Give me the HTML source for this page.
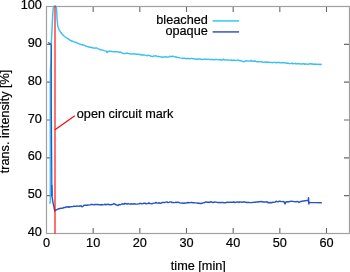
<!DOCTYPE html><html><head><meta charset="utf-8"><style>html,body{margin:0;padding:0;background:#fff;width:350px;height:272px;overflow:hidden}svg{display:block;will-change:transform}text{stroke:#000;stroke-width:0.2px}</style></head><body>
<svg width="350" height="272" viewBox="0 0 350 272" xmlns="http://www.w3.org/2000/svg" font-family='"Liberation Sans", sans-serif' font-size="12.7">
<rect x="0" y="0" width="350" height="272" fill="#fff"/>
<path d="M46.5 195.67h5.5M349.5 195.67h-5.5M46.5 157.83h5.5M349.5 157.83h-5.5M46.5 120.00h5.5M349.5 120.00h-5.5M46.5 82.17h5.5M349.5 82.17h-5.5M46.5 44.33h5.5M349.5 44.33h-5.5M93.17 233.5v-5.5M93.17 6.5v5.5M139.83 233.5v-5.5M139.83 6.5v5.5M186.50 233.5v-5.5M186.50 6.5v5.5M233.17 233.5v-5.5M233.17 6.5v5.5M279.83 233.5v-5.5M279.83 6.5v5.5M326.50 233.5v-5.5M326.50 6.5v5.5" stroke="#6a6a6a" stroke-width="1.1" fill="none"/>
<rect x="46.5" y="6.5" width="303" height="227" fill="none" stroke="#a0a0a0" stroke-width="1.2"/>
<text x="41.8" y="236.00" text-anchor="end">40</text>
<text x="41.8" y="198.17" text-anchor="end">50</text>
<text x="41.8" y="160.33" text-anchor="end">60</text>
<text x="41.8" y="122.50" text-anchor="end">70</text>
<text x="41.8" y="84.67" text-anchor="end">80</text>
<text x="41.8" y="46.83" text-anchor="end">90</text>
<text x="41.8" y="9.00" text-anchor="end">100</text>
<text x="46.50" y="247.4" text-anchor="middle">0</text>
<text x="93.17" y="247.4" text-anchor="middle">10</text>
<text x="139.83" y="247.4" text-anchor="middle">20</text>
<text x="186.50" y="247.4" text-anchor="middle">30</text>
<text x="233.17" y="247.4" text-anchor="middle">40</text>
<text x="279.83" y="247.4" text-anchor="middle">50</text>
<text x="326.50" y="247.4" text-anchor="middle">60</text>
<text x="198.3" y="269.7" text-anchor="middle">time [min]</text>
<text transform="translate(9.1,121.45) rotate(-90)" text-anchor="middle">trans. intensity [%]</text>
<polyline points="49.30,203.40 50.30,202.60 50.30,150.00 50.30,105.00 50.40,70.00 51.00,60.00 51.30,42.00 52.00,30.00 52.50,18.00 53.20,8.00 54.30,6.00 55.60,6.00 56.50,8.00 57.00,18.00 57.50,23.00 57.70,26.00 59.00,29.50 59.75,30.75 60.50,32.00 61.25,33.00 62.00,34.00 63.00,35.00 64.00,36.00 65.00,36.75 66.00,37.50 67.00,38.10 68.00,38.70 69.25,39.60 70.50,40.50 71.75,41.00 73.00,41.50 74.00,41.83 75.00,42.17 76.00,42.50 77.00,42.90 78.00,43.30 79.00,43.70 80.00,44.04 81.00,44.61 82.00,44.75 83.00,45.03 84.00,45.20 85.00,45.65 86.00,46.24 87.00,46.39 88.00,46.83 89.00,46.95 90.00,47.29 91.00,47.54 92.00,47.27 93.00,47.97 94.00,48.03 95.00,48.17 96.00,47.83 97.00,48.14 98.00,48.64 99.00,49.06 100.00,49.55 101.00,49.79 102.00,50.15 103.00,50.14 104.00,50.59 105.00,50.85 106.00,50.85 107.00,52.58 108.00,51.32 109.00,51.56 110.00,51.26 111.00,51.34 112.00,51.48 113.00,51.60 114.00,51.82 115.00,51.79 116.00,51.70 117.00,51.69 118.00,51.89 119.00,52.37 120.00,52.02 121.00,52.35 122.25,53.14 123.50,53.47 124.75,53.51 126.00,53.49 127.00,52.92 128.00,53.45 129.00,53.66 130.00,53.66 131.00,54.11 132.00,53.95 133.00,53.60 134.00,54.06 135.00,53.99 136.00,54.01 137.00,54.32 138.00,54.28 139.00,54.43 140.00,54.31 141.00,54.94 142.00,54.81 143.00,54.98 144.00,54.94 145.00,55.15 146.00,55.38 147.00,55.84 148.00,55.17 149.00,55.36 150.00,55.79 151.00,56.12 152.00,56.48 153.00,56.48 153.75,55.90 154.50,56.08 155.25,55.84 156.00,55.75 157.00,56.38 158.00,56.56 159.00,56.51 160.00,56.69 161.00,56.90 162.00,57.19 163.00,57.02 164.00,57.03 165.00,57.08 166.00,56.65 167.00,57.21 168.00,57.07 169.00,56.90 170.00,56.28 171.00,56.50 172.00,56.76 173.00,56.10 174.00,56.65 175.00,57.10 176.00,56.77 177.00,57.60 178.00,57.56 179.00,57.59 180.00,57.88 181.00,58.14 182.00,58.13 183.00,58.45 184.00,58.15 185.00,58.31 186.00,58.73 187.00,58.51 188.00,58.31 189.00,58.71 190.00,58.82 191.00,58.40 192.00,58.32 193.00,58.71 194.00,58.83 195.00,58.91 196.00,59.41 197.00,58.88 198.00,59.40 199.00,58.85 200.00,58.97 201.00,59.29 202.00,59.41 203.00,59.36 204.00,59.26 205.00,59.22 206.00,59.23 207.00,59.36 208.00,59.22 209.00,59.35 210.00,59.45 211.00,59.35 212.00,59.55 213.00,59.53 214.00,59.88 215.00,59.54 216.00,59.41 217.00,59.47 218.00,59.60 219.00,59.85 220.00,59.63 221.00,59.83 222.00,60.20 223.00,59.29 224.00,59.65 225.00,60.00 226.00,60.09 227.00,60.05 228.00,59.91 229.00,60.14 230.00,60.06 231.00,59.89 232.00,60.61 233.00,60.24 234.00,60.12 235.00,60.30 236.00,60.35 237.00,60.47 238.00,59.96 239.00,60.53 240.00,60.94 241.00,60.54 242.00,61.14 243.00,61.71 244.00,61.44 245.00,61.33 246.00,60.63 247.00,60.92 248.00,60.92 249.00,61.14 250.00,61.24 251.00,60.41 252.00,61.32 253.00,60.84 254.00,61.39 255.00,60.99 256.00,61.44 257.00,61.74 258.00,61.53 259.00,61.68 260.00,61.90 261.00,61.83 262.00,61.82 263.00,62.22 264.00,62.15 265.00,61.90 266.00,62.60 267.00,61.83 268.00,62.36 269.00,62.18 270.00,62.35 271.00,62.56 272.00,62.53 273.00,62.70 274.00,62.30 275.00,62.39 276.00,62.94 277.00,62.53 278.00,62.45 279.00,62.30 280.00,62.84 281.00,62.66 282.00,62.92 283.00,62.49 284.00,62.80 285.00,62.65 286.00,63.17 287.00,63.45 288.00,63.00 289.00,63.64 290.00,63.62 291.00,63.46 292.00,63.09 293.00,63.85 294.00,63.54 295.00,63.45 296.00,63.69 297.00,63.71 298.00,63.97 299.00,63.44 300.00,63.93 301.00,64.03 302.00,64.09 303.00,63.81 304.00,63.76 305.00,64.22 306.00,64.05 307.00,64.07 308.00,64.37 309.00,64.02 310.00,63.59 311.00,64.03 312.00,63.73 313.00,64.34 314.00,64.25 315.00,64.07 315.97,64.20 316.94,64.38 317.91,64.22 318.89,64.49 319.86,64.19 320.83,64.43 321.80,64.20" fill="none" stroke="#3cc0f2" stroke-width="1.45" stroke-linejoin="round"/>
<polyline points="48.00,42.50 49.50,43.20 51.00,44.30 51.30,46.00 51.30,100.00 51.80,185.00 52.00,196.00" fill="none" stroke="#2855c6" stroke-width="1.25" stroke-linejoin="round"/>
<polyline points="51.80,185.00 52.00,196.00 53.00,202.60 54.00,207.00 54.80,211.00 56.00,210.20 58.00,209.00 59.00,208.75 60.00,208.50 61.00,208.25 62.00,208.33 63.00,208.10 64.00,207.35 65.00,207.61 66.00,206.92 67.00,207.01 68.00,206.73 69.00,207.32 70.00,206.73 71.00,206.83 72.00,206.62 73.00,206.49 74.00,206.20 75.00,206.22 76.00,206.39 77.00,206.01 78.00,206.12 79.00,206.22 80.00,205.96 81.00,205.72 82.00,206.88 83.00,206.24 84.00,205.34 85.00,205.27 86.00,205.32 87.00,205.21 88.00,204.98 89.00,205.10 90.00,204.90 91.00,204.54 92.00,204.42 93.00,204.58 94.00,204.88 95.00,204.52 96.00,204.40 97.00,204.51 98.00,204.42 99.00,204.81 100.00,204.66 101.00,205.08 102.00,204.40 103.00,204.91 104.00,204.62 105.00,204.25 106.00,204.76 107.00,204.58 108.00,204.19 109.00,204.53 110.00,204.82 111.00,204.70 112.00,204.57 113.00,204.16 114.00,203.75 115.00,204.12 116.00,204.79 117.00,205.15 118.00,205.60 119.00,204.57 120.00,204.76 121.00,204.39 122.00,203.93 123.00,203.80 124.00,204.23 125.00,203.31 126.00,203.70 127.00,204.17 128.00,203.48 129.00,203.87 130.00,204.18 131.00,203.77 132.00,203.96 133.00,204.08 134.00,203.72 135.00,203.94 136.00,204.06 137.00,204.11 138.00,203.85 139.00,203.75 140.00,203.50 141.00,203.57 142.00,203.78 143.00,203.53 144.00,203.25 145.00,203.18 146.00,203.89 147.00,203.59 148.00,203.52 149.00,202.85 150.00,203.60 151.00,203.61 152.00,203.75 153.00,203.35 154.00,203.13 155.00,203.13 156.00,202.47 157.00,203.13 158.00,202.97 159.00,202.75 160.00,203.19 161.00,203.30 162.00,202.46 163.00,202.49 164.00,202.56 165.00,202.41 166.00,202.15 167.00,201.89 168.00,202.59 169.00,202.37 170.00,201.90 171.00,201.89 172.00,202.59 173.00,202.45 174.00,202.66 175.00,202.46 176.00,202.11 177.00,202.50 178.00,202.11 179.00,202.56 180.00,202.86 181.00,203.13 182.00,203.00 183.00,203.27 184.00,203.24 185.00,203.06 186.00,202.96 187.00,202.71 188.00,202.43 189.00,202.72 190.00,202.61 191.00,202.47 192.00,202.56 193.00,202.75 194.00,202.78 195.00,202.88 196.00,202.90 197.00,203.09 198.00,203.17 199.00,203.07 200.00,203.59 201.00,203.53 202.00,203.20 203.00,202.86 204.00,202.80 205.00,202.29 206.00,201.88 207.00,202.31 208.00,202.10 209.00,202.46 210.00,202.06 211.00,201.72 212.00,202.07 213.00,202.65 214.00,202.22 215.00,202.00 216.00,202.13 217.00,202.43 218.00,202.45 219.00,202.40 220.00,202.71 221.00,202.56 222.00,202.42 223.00,202.57 224.00,202.82 225.00,202.69 226.00,202.73 227.00,202.18 228.00,202.31 229.00,202.42 230.00,202.11 231.00,202.34 232.00,202.21 233.00,202.26 234.00,201.99 235.00,202.58 236.00,202.27 237.00,201.93 238.00,201.98 239.00,202.51 240.00,201.84 241.00,202.09 242.00,202.18 243.00,202.02 244.00,201.82 245.00,202.18 246.00,202.28 247.00,202.51 248.00,202.49 249.00,202.39 250.00,202.63 251.00,202.62 252.00,202.48 253.00,202.37 254.00,202.24 255.00,202.37 256.00,201.92 257.00,201.94 258.00,202.01 259.00,201.62 260.00,201.77 261.00,201.36 262.00,201.69 263.00,202.01 264.00,202.04 265.00,201.95 266.00,201.95 267.00,201.82 268.00,202.67 269.00,202.51 270.00,202.77 271.00,202.47 272.00,202.76 273.00,202.10 274.00,202.37 275.00,202.11 276.00,201.18 277.00,201.61 278.00,201.79 279.00,201.29 280.00,201.30 281.00,201.49 282.00,201.61 283.00,201.47 284.00,201.81 285.00,204.05 286.00,201.84 287.00,201.81 288.00,201.95 289.00,201.84 290.00,201.25 291.00,201.39 292.00,201.32 293.00,201.38 294.00,201.65 295.00,201.73 296.00,201.89 297.00,201.49 298.00,201.63 299.00,202.49 300.00,201.76 301.00,201.49 302.00,201.31 303.00,200.91 304.00,200.99 305.00,200.68 306.00,200.65 307.00,200.59 308.00,200.80 308.50,197.80 308.80,204.00 309.20,202.20 310.00,202.50 315.00,202.60 321.80,202.70" fill="none" stroke="#2855c6" stroke-width="1.45" stroke-linejoin="round"/>
<line x1="55" y1="6" x2="55" y2="233.5" stroke="#ff0000" stroke-opacity="0.56" stroke-width="2"/>
<line x1="55" y1="129.8" x2="74.8" y2="115.8" stroke="#ff0000" stroke-width="1.1"/>
<text x="76.8" y="118.3">open circuit mark</text>
<text x="207.8" y="24" text-anchor="end">bleached</text>
<text x="207.8" y="35" text-anchor="end">opaque</text>
<line x1="212.6" y1="20.9" x2="239.1" y2="20.9" stroke="#55d1f7" stroke-width="1.8"/>
<line x1="212.6" y1="31.9" x2="239.1" y2="31.9" stroke="#5c70c6" stroke-width="1.8"/>
</svg></body></html>
